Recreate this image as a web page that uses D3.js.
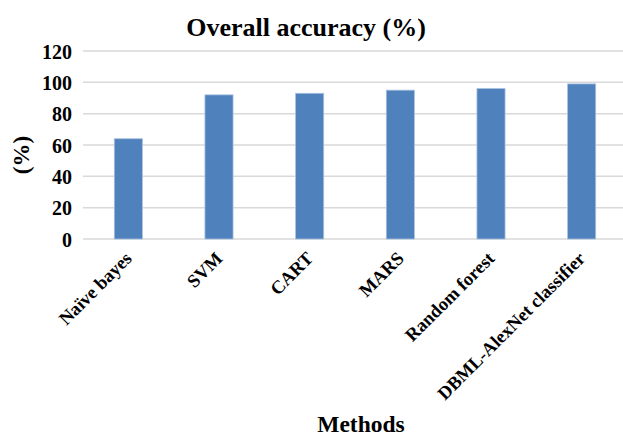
<!DOCTYPE html>
<html><head><meta charset="utf-8">
<script src="https://cdn.jsdelivr.net/npm/d3@7"></script>
<style>body{margin:0;background:#fff}svg{display:block}</style>
</head><body><svg id="c" width="623" height="436"></svg>
<script>
const categories = ["Naïve bayes","SVM","CART","MARS","Random forest","DBML-AlexNet classifier"];
const values = [64, 92, 93, 95, 96, 99];
const yTicks = [0,20,40,60,80,100,120];
const title = "Overall accuracy (%)";
const xTitle = "Methods";
const yTitle = "(%)";

const svg = d3.select("#c");
const font = "'Liberation Serif','Times New Roman',serif";
const x = d3.scaleBand().domain(categories).range([83, 627]).paddingInner(0.69).paddingOuter(0.345);
const y = d3.scaleLinear().domain([0,120]).range([239, 51]);

// gridlines
svg.append("g").selectAll("line").data(yTicks).join("line")
  .attr("x1", 83).attr("x2", 623)
  .attr("y1", d=>y(d)).attr("y2", d=>y(d))
  .attr("stroke", "#d9d9d9").attr("stroke-width", 1.5);

// y axis labels
const ya = svg.append("g").attr("transform","translate(72,0)")
  .call(d3.axisLeft(y).tickValues(yTicks).tickSize(0).tickPadding(0));
ya.select(".domain").remove();
ya.selectAll("text").attr("font-family", font).attr("font-weight","bold")
  .attr("font-size", 20).attr("fill","#000").attr("dy","0.35em");

// bars
svg.append("g").selectAll("rect").data(values).join("rect")
  .attr("x", (d,i)=>x(categories[i])).attr("width", x.bandwidth())
  .attr("y", d=>y(d)).attr("height", d=>y(0)-y(d))
  .attr("fill", "#4f81bd").attr("stroke","#a9c1e0").attr("stroke-width",0.8);

// x labels
const xa = svg.append("g").attr("transform","translate(0,"+(y(0)+16)+")")
  .call(d3.axisBottom(x).tickSize(0).tickPadding(0));
xa.select(".domain").remove();
xa.selectAll("text").attr("font-family", font).attr("font-weight","bold")
  .attr("font-size", 18.5).attr("fill","#000")
  .attr("text-anchor","end").attr("dy","0.35em").attr("dx","0")
  .attr("transform","translate(0,0) rotate(-45)");

// titles
svg.append("text").attr("x", 306).attr("y", 36).attr("text-anchor","middle")
  .attr("font-family", font).attr("font-weight","bold").attr("font-size", 26).text(title);
svg.append("text").attr("x", 361).attr("y", 432).attr("text-anchor","middle")
  .attr("font-family", font).attr("font-weight","bold").attr("font-size", 23.5).text(xTitle);
svg.append("text").attr("transform","translate(29,155) rotate(-90)").attr("text-anchor","middle")
  .attr("font-family", font).attr("font-weight","bold").attr("font-size", 23).text(yTitle);
</script></body></html>
